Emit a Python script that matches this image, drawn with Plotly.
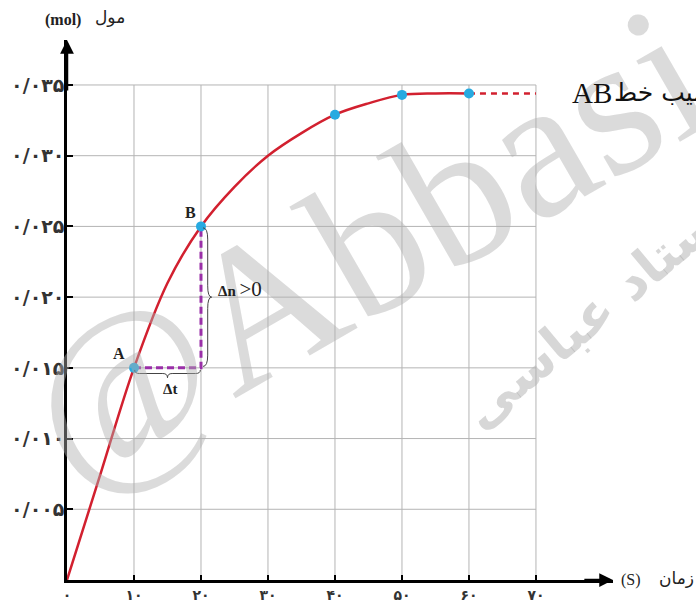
import plotly.graph_objects as go

# curve: time (s) and amount (mol)
t = [0, 5, 10, 15, 20, 25, 30, 35, 40, 45, 50, 55, 60]
n = [0, 0.0075, 0.015, 0.0210, 0.025, 0.0278, 0.0300, 0.0316, 0.0329, 0.0337, 0.0343, 0.0344, 0.0344]

# highlighted points
pt_t = [10, 20, 40, 50, 60]
pt_n = [0.015, 0.025, 0.0329, 0.0343, 0.0344]

# dashed continuation after 60 s
ext_t = [60, 70]
ext_n = [0.0344, 0.0344]

# delta-t / delta-n helper path between A and B
delta_t = [10, 20, 20]
delta_n = [0.015, 0.015, 0.025]

x_ticks = [0, 10, 20, 30, 40, 50, 60, 70]
x_ticktext = ["۰", "۱۰", "۲۰", "۳۰", "۴۰", "۵۰", "۶۰", "۷۰"]
y_ticks = [0.005, 0.010, 0.015, 0.020, 0.025, 0.030, 0.035]
y_ticktext = ["۰/۰۰۵", "۰/۰۱۰", "۰/۰۱۵", "۰/۰۲۰", "۰/۰۲۵", "۰/۰۳۰", "۰/۰۳۵"]

RED = "#d2202f"
BLUE = "#27aae1"
PURPLE = "#9a2fa8"
GRID = "#b4b4b4"
FA = "DejaVu Sans"
SERIF = "Liberation Serif"

X_MAX = 81.5
Y_MAX = 0.03818

fig = go.Figure()

fig.add_trace(go.Scatter(x=delta_t, y=delta_n, mode="lines",
                         line=dict(color=PURPLE, width=3, dash="7px,4px")))
fig.add_trace(go.Scatter(x=t, y=n, mode="lines", line_shape="spline",
                         line=dict(color=RED, width=2.5)))
fig.add_trace(go.Scatter(x=ext_t, y=ext_n, mode="lines",
                         line=dict(color=RED, width=2.5, dash="6px,5px")))
fig.add_trace(go.Scatter(x=pt_t, y=pt_n, mode="markers",
                         marker=dict(color=BLUE, size=10)))

# grid only inside the 0-70 / 0-0.035 box
shapes = []
for xv in x_ticks[1:]:
    shapes.append(dict(type="line", xref="x", yref="y", x0=xv, x1=xv, y0=0, y1=y_ticks[-1],
                       line=dict(color=GRID, width=1), layer="below"))
for yv in y_ticks:
    shapes.append(dict(type="line", xref="x", yref="y", x0=0, x1=x_ticks[-1], y0=yv, y1=yv,
                       line=dict(color=GRID, width=1), layer="below"))

# braces
brace_col = "#444444"
shapes.append(dict(type="path", xref="x", yref="y",
                   path="M 20.3,0.0249 Q 21.0,0.0249 21.0,0.0241 L 21.0,0.0208 "
                        "Q 21.0,0.0200 21.6,0.0200 Q 21.0,0.0200 21.0,0.0192 "
                        "L 21.0,0.0159 Q 21.0,0.0151 20.3,0.0151",
                   line=dict(color=brace_col, width=1)))
shapes.append(dict(type="path", xref="x", yref="y",
                   path="M 10.1,0.01485 Q 10.1,0.0146 10.8,0.0146 L 14.3,0.0146 "
                        "Q 15.0,0.0146 15.0,0.0143 Q 15.0,0.0146 15.7,0.0146 "
                        "L 19.2,0.0146 Q 19.9,0.0146 19.9,0.01485",
                   line=dict(color=brace_col, width=1)))


def paper_text(x, y, text, font, **kw):
    d = dict(x=x, y=y, xref="paper", yref="paper", text=text, showarrow=False,
             xanchor="center", yanchor="middle", font=font)
    d.update(kw)
    return d


annotations = [
    # arrowheads on the axes
    dict(x=0, y=Y_MAX, ax=0, ay=0.0345, xref="x", yref="y", axref="x", ayref="y",
         showarrow=True, arrowhead=2, arrowsize=1.1, arrowwidth=2.5, arrowcolor="black",
         standoff=0, text=""),
    dict(x=X_MAX, y=0, ax=77, ay=0, xref="x", yref="y", axref="x", ayref="y",
         showarrow=True, arrowhead=2, arrowsize=1.1, arrowwidth=2.5, arrowcolor="black",
         standoff=0, text=""),
    # watermarks
    paper_text(0.5458, 0.620, "@Abbasi",
               dict(family=SERIF, size=200, color="rgba(175,175,175,0.45)"), textangle=-30),
    paper_text(0.9707, 0.50, "استاد عباسی",
               dict(family=FA, size=52, weight="bold", color="rgba(175,175,175,0.5)"),
               textangle=-40),
    # point labels
    dict(x=7.76, y=0.0160, text="<b>A</b>", showarrow=False,
         font=dict(family=SERIF, size=16, color="#222")),
    dict(x=18.36, y=0.02595, text="<b>B</b>", showarrow=False,
         font=dict(family=SERIF, size=16, color="#222")),
    dict(x=15.4, y=0.0135, text="<b>Δt</b>", showarrow=False,
         font=dict(family=SERIF, size=15, color="#222")),
    dict(x=22.2, y=0.0206, xanchor="left", showarrow=False,
         text="<b>Δn</b> <span style='font-size:21px'>>0</span>",
         font=dict(family=SERIF, size=15, color="#222")),
    # slope label, partly cut by the right edge
    dict(x=78.4, y=0.0344, text="AB", showarrow=False,
         font=dict(family=SERIF, size=29, color="#111")),
    paper_text(0.9982, 0.902, "شیب خط", dict(family=FA, size=25, color="#111"),
               xanchor="left"),
    # axis titles
    paper_text(-0.007, 1.037, "<b>(mol)</b>", dict(family=SERIF, size=16, color="#222")),
    paper_text(0.0788, 1.042, "مول", dict(family=FA, size=17, color="#222")),
    paper_text(1.033, 0.0, "(S)", dict(family=SERIF, size=16, color="#222")),
    paper_text(1.116, 0.004, "زمان", dict(family=FA, size=17, color="#222")),
]

fig.update_layout(
    width=696, height=604,
    margin=dict(l=67, r=83, t=40, b=24),
    paper_bgcolor="white", plot_bgcolor="white",
    showlegend=False,
    shapes=shapes,
    annotations=annotations,
    xaxis=dict(range=[0, X_MAX], showgrid=False, zeroline=False, automargin=False,
               showline=True, linecolor="black", linewidth=2.5,
               tickvals=x_ticks, ticktext=x_ticktext,
               ticks="inside", ticklen=5, tickwidth=2, tickcolor="black",
               ticklabelstandoff=0,
               tickfont=dict(family=FA, size=14, weight="bold", color="#333")),
    yaxis=dict(range=[0, Y_MAX], showgrid=False, zeroline=False, automargin=False,
               showline=True, linecolor="black", linewidth=2.5,
               tickvals=y_ticks, ticktext=y_ticktext,
               ticks="inside", ticklen=6, tickwidth=2, tickcolor="black",
               ticklabelstandoff=-4,
               tickfont=dict(family=FA, size=19, weight="bold", color="#333")),
)

fig.write_html("out.html", config={"displayModeBar": False},
               post_script="document.body.style.margin = '0';")
